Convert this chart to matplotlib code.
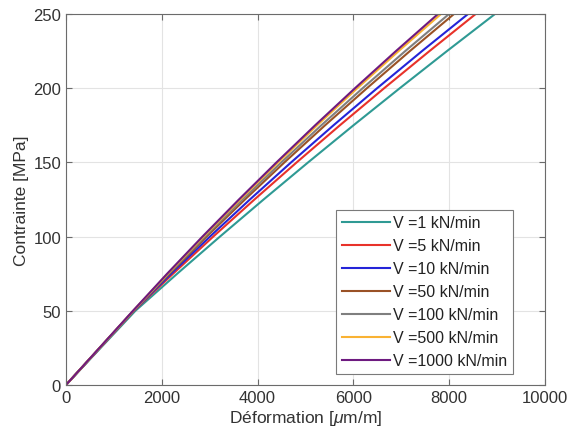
import matplotlib.pyplot as plt

plt.rcParams['font.family'] = ['Liberation Sans', 'DejaVu Sans']
plt.rcParams['mathtext.fontset'] = 'custom'
plt.rcParams['mathtext.it'] = 'Liberation Sans:italic'

# stress levels (MPa) and the strain (µm/m) read for each loading rate
stress = [0, 25, 50, 75, 100, 125, 150, 175, 200, 225, 250]
labels = ['V =1 kN/min', 'V =5 kN/min', 'V =10 kN/min', 'V =50 kN/min',
          'V =100 kN/min', 'V =500 kN/min', 'V =1000 kN/min']
strain_1 = [0, 725, 1450, 2323, 3215, 4126, 5055, 6002, 6969, 7953, 8956]
strain_5 = [0, 710, 1420, 2237, 3075, 3935, 4816, 5718, 6643, 7588, 8553]
strain_10 = [0, 707, 1415, 2198, 3006, 3840, 4700, 5585, 6496, 7432, 8393]
strain_50 = [0, 705, 1410, 2161, 2937, 3737, 4561, 5409, 6283, 7179, 8100]
strain_100 = [0, 705, 1410, 2142, 2900, 3684, 4495, 5331, 6194, 7082, 7996]
strain_500 = [0, 702, 1405, 2126, 2870, 3638, 4429, 5244, 6082, 6944, 7829]
strain_1000 = [0, 700, 1400, 2113, 2850, 3611, 4395, 5202, 6034, 6888, 7766]

series = [strain_1, strain_5, strain_10, strain_50, strain_100, strain_500, strain_1000]
colors = ['#2f9a94', '#e8322a', '#2424d8', '#9a5226', '#7f7f7f', '#f9b233', '#6e1a80']

fig = plt.figure(figsize=(5.68, 4.39), dpi=100)
ax = fig.add_axes([0.116, 0.1207, 0.8435, 0.8451])

for s, c, lab in zip(series, colors, labels):
    ax.plot(s, stress, color=c, lw=1.5, label=lab)

ax.set_xlim(0, 10000)
ax.set_ylim(0, 250)
ax.set_xticks([0, 2000, 4000, 6000, 8000, 10000])
ax.set_yticks([0, 50, 100, 150, 200, 250])
ax.grid(True, color='#e3e3e3', lw=0.8)
ax.set_axisbelow(True)
for sp in ax.spines.values():
    sp.set_color('#6b6b6b')
    sp.set_linewidth(0.8)
ax.tick_params(direction='in', length=4, colors='#6b6b6b', labelcolor='#333333',
               labelsize=12, top=True, right=True)
ax.set_xlabel('Déformation [$\\mu$m/m]', fontsize=12.5, color='#333333', labelpad=2)
ax.set_ylabel('Contrainte [MPa]', fontsize=12.5, color='#333333', labelpad=3)

leg = ax.legend(loc='lower right', bbox_to_anchor=(0.933, 0.03), fontsize=11.5,
                fancybox=False, framealpha=1, edgecolor='#7a7a7a',
                handlelength=3.0, handletextpad=0.2, labelspacing=0.5,
                borderpad=0.35, borderaxespad=0)
leg.get_frame().set_linewidth(0.8)
for t in leg.get_texts():
    t.set_color('#222222')

fig.savefig('out.png', dpi=100)
